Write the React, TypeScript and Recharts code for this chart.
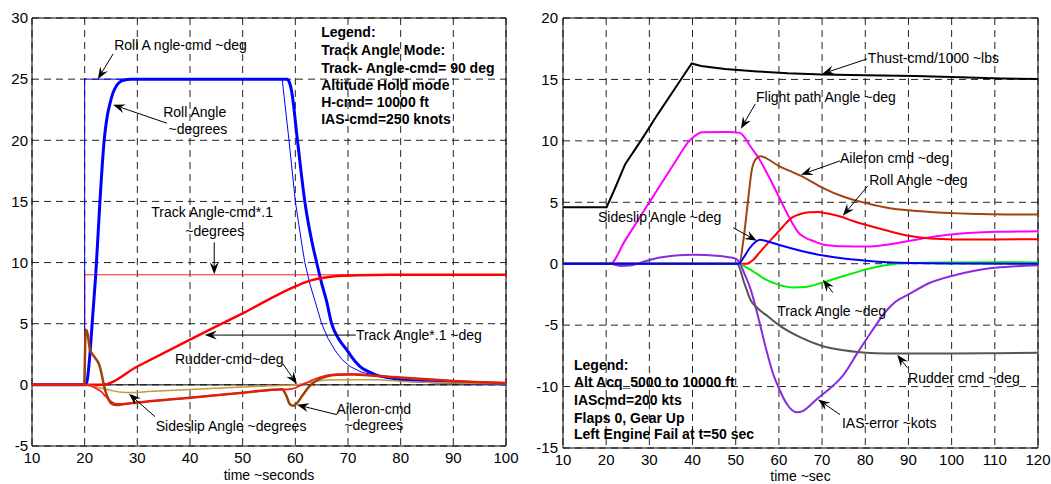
import {
  LineChart,
  Line,
  XAxis,
  YAxis,
  CartesianGrid,
  ReferenceLine,
  ReferenceDot,
  ReferenceArea,
} from "recharts";

type Pt = [number, number];

// ---- left panel: track angle mode ----
const leftTicksX = [10, 20, 30, 40, 50, 60, 70, 80, 90, 100];
const leftTicksY = [-5, 0, 5, 10, 15, 20, 25, 30];

const rollAngleCmd: Pt[] = [
  [10, 0], [20, 0], [20, 25], [57.5, 25], [58.8, 20], [60, 15], [61.2, 11.6], [61.8, 10],
  [62.8, 8.2], [63.7, 6.9], [65, 5], [66.2, 3.8], [67.5, 2.85], [68.8, 2.1], [70.4, 1.5],
  [72.5, 1.05], [76, 0.7], [80, 0.45], [85, 0.28], [90, 0.18], [95, 0.12], [100, 0.08],
];
const rollAngle: Pt[] = [
  [10, 0], [20.25, 0], [20.9, 2], [21.5, 5.5], [22.1, 9], [22.9, 15], [23.7, 20], [24.3, 22],
  [24.8, 23], [25.4, 23.9], [26.1, 24.5], [27, 24.85], [28.6, 25], [58.4, 25], [58.9, 24.7],
  [59.3, 24], [60.4, 20], [61.8, 15], [63.2, 11.6], [64.05, 10], [65, 8.3], [65.9, 6.9],
  [66.9, 5], [68.3, 3.7], [69.8, 2.85], [71, 2.1], [72.3, 1.5], [73.8, 1.1], [75.4, 0.8],
  [77.5, 0.6], [80.5, 0.4], [85, 0.28], [90, 0.2], [95, 0.14], [100, 0.1],
];
const trackAngleCmd: Pt[] = [[10, 0], [20, 0], [20, 9], [100, 9]];
const trackAngle: Pt[] = [
  [10, 0], [23.3, 0], [30, 1.5], [40, 3.7], [50, 5.85], [60, 8.05], [62, 8.4], [64, 8.65],
  [66, 8.8], [68, 8.9], [72, 8.97], [80, 9], [100, 9],
];
const sideslipLeft: Pt[] = [
  [10, 0], [20, 0], [21, -0.05], [23, -0.25], [25, -0.45], [27, -0.6], [29, -0.62], [32, -0.55],
  [40, -0.38], [50, -0.18], [57, -0.05], [60, 0], [62, 0.15], [64, 0.3], [66, 0.4], [70, 0.42],
  [76, 0.42], [78, 0.35], [80, 0.3], [85, 0.22], [90, 0.16], [95, 0.12], [100, 0.1],
];
const aileronLeft: Pt[] = [
  [10, 0], [19.9, 0], [20.2, 4.5], [20.5, 4.3], [21, 2.9], [21.5, 2.5], [22, 2.2], [22.6, 1.8],
  [23, 1.3], [23.5, 0.3], [24, -0.6], [24.6, -1.25], [25.3, -1.6], [26, -1.65], [27, -1.6],
  [30, -1.45], [40, -1.05], [50, -0.65], [57.5, -0.35], [58.2, -0.8], [59, -1.6], [59.6, -1.7],
  [60.3, -1.5], [61.3, -0.9], [62.5, -0.2], [64, 0.35], [66, 0.7], [68, 0.82], [71, 0.85],
  [75, 0.75], [80, 0.6], [85, 0.45], [90, 0.32], [95, 0.22], [100, 0.15],
];
const rudderLeft: Pt[] = [
  [10, 0], [20, 0], [21, -0.08], [22, -0.25], [23, -0.5], [24, -0.95], [25, -1.35], [26, -1.55],
  [27, -1.55], [30, -1.42], [40, -1.05], [50, -0.65], [57.5, -0.38], [59, -0.35], [60, -0.25],
  [61, -0.05], [62, 0.15], [63, 0.35], [64.5, 0.6], [66, 0.78], [68, 0.87], [71, 0.88],
  [75, 0.75], [80, 0.58], [85, 0.45], [90, 0.32], [95, 0.24], [100, 0.17],
];

// ---- right panel: altitude acquire, engine fail ----
const rightTicksX = [10, 20, 30, 40, 50, 60, 70, 80, 90, 100, 110, 120];
const rightTicksY = [-15, -10, -5, 0, 5, 10, 15, 20];

const thrustCmd: Pt[] = [
  [10, 4.6], [20.1, 4.6], [22, 6.1], [24.4, 8.1], [28.2, 10.1], [32, 12.2], [36, 14.3],
  [39.8, 16.3], [42, 16.1], [47.5, 15.85], [55, 15.65], [62, 15.5], [70, 15.4], [80, 15.35],
  [91.5, 15.28], [100, 15.2], [111.6, 15.07], [120, 15.03],
];
const flightPath: Pt[] = [
  [10, 0], [20.9, 0], [24.4, 1.9], [28, 3.9], [32, 6.1], [36, 8.3], [39, 9.9], [40.5, 10.4],
  [42.2, 10.7], [48, 10.72], [51, 10.65], [52, 10.3], [53.5, 9.5], [55.3, 8.6], [57.5, 7.2],
  [60, 5.45], [62.5, 3.7], [64.6, 2.5], [66.5, 2.05], [68, 1.85], [70.3, 1.55], [75, 1.42],
  [80.3, 1.4], [85, 1.55], [90.4, 1.87], [95, 2.15], [100.4, 2.4], [105, 2.52], [111.2, 2.6],
  [120, 2.65],
];
const aileronRight: Pt[] = [
  [10, 0], [50.8, 0], [51.8, 2], [52.8, 5], [53.7, 7.6], [54.6, 8.5], [55.7, 8.75], [57, 8.6],
  [60, 7.95], [62.5, 7.55], [65.1, 7.15], [70, 6.2], [75, 5.45], [80, 4.95], [86, 4.5],
  [90, 4.35], [98, 4.15], [107, 4.05], [120, 4.0],
];
const rollRight: Pt[] = [
  [10, 0], [52.5, 0], [54, 0.3], [55.5, 0.9], [57.5, 1.7], [59.6, 2.5], [61, 3.05], [63, 3.75],
  [65, 4.05], [67, 4.18], [69.2, 4.2], [71, 4.1], [74.6, 3.8], [77, 3.5], [80.3, 3.15],
  [85, 2.7], [90.4, 2.25], [95, 2.05], [100.4, 1.98], [110, 1.97], [120, 2.0],
];
const sideslipRight: Pt[] = [
  [10, 0], [50.6, 0], [52, 0.6], [53.3, 1.3], [54.5, 1.75], [55.6, 1.95], [57, 1.85],
  [60.3, 1.5], [65, 1.06], [70.3, 0.66], [75, 0.42], [80.3, 0.24], [85, 0.12], [90.4, 0.05],
  [100, 0.02], [120, 0],
];
const trackRight: Pt[] = [
  [10, 0], [50.5, 0], [53, -0.4], [55, -0.85], [57, -1.3], [60, -1.72], [63.5, -1.93],
  [66, -1.9], [70, -1.55], [75, -1.0], [80, -0.48], [85, -0.1], [90, 0.05], [100, 0.1],
  [110, 0.12], [120, 0.1],
];
const iasError: Pt[] = [
  [10, 0], [21, 0], [23.2, -0.18], [26, -0.12], [29, 0.2], [32.5, 0.5], [36, 0.66], [40.2, 0.73],
  [45.6, 0.65], [48, 0.55], [50.2, 0.38], [51, 0], [52, -0.8], [53.3, -1.93], [55.6, -4.9],
  [57, -6.9], [58.7, -9.0], [60.2, -10.3], [61.8, -11.4], [63, -11.9], [64.3, -12.1],
  [65.5, -12.0], [67, -11.6], [69, -10.95], [72, -10.1], [74.9, -9.06], [78.3, -7.2],
  [81.5, -5.5], [84.6, -3.95], [87, -3.1], [90, -2.5], [95, -1.55], [100, -1.0], [105, -0.6],
  [109.3, -0.35], [115, -0.2], [120, -0.12],
];
const rudderRight: Pt[] = [
  [10, 0], [50.3, 0], [52, -1.6], [53.5, -3.0], [55, -3.6], [57.5, -4.3], [60, -5.0], [65, -6.0],
  [70, -6.7], [75, -7.05], [80, -7.25], [85, -7.3], [100, -7.3], [110, -7.28], [120, -7.25],
];

// annotations, in data units
type Note = { t: number; v: number; text: string; anchor?: "start" | "middle"; bold?: boolean };
type Arr = [number, number, number, number];

const leftNotes: Note[] = [
  { t: 25.6, v: 27.8, text: "Roll A ngle-cmd ~deg" },
  { t: 40.9, v: 22.3, text: "Roll Angle", anchor: "middle" },
  { t: 41.5, v: 20.9, text: "~degrees", anchor: "middle" },
  { t: 44.2, v: 14.1, text: "Track Angle-cmd*.1", anchor: "middle" },
  { t: 44.7, v: 12.6, text: "~degrees", anchor: "middle" },
  { t: 71.5, v: 4.07, text: "Track Angle*.1 ~deg" },
  { t: 37.15, v: 2.1, text: "Rudder-cmd~deg" },
  { t: 33.5, v: -3.34, text: "Sideslip Angle ~degrees" },
  { t: 74.9, v: -1.96, text: "Aileron-cmd", anchor: "middle" },
  { t: 74.9, v: -3.26, text: "~degrees", anchor: "middle" },
  { t: 64.9, v: 28.85, text: "Legend:", bold: true },
  { t: 64.9, v: 27.38, text: "Track Angle Mode:", bold: true },
  { t: 64.9, v: 25.92, text: "Track- Angle-cmd= 90 deg", bold: true },
  { t: 64.9, v: 24.55, text: "Altitude Hold mode", bold: true },
  { t: 64.9, v: 23.14, text: "H-cmd= 10000 ft", bold: true },
  { t: 64.9, v: 21.76, text: "IAS-cmd=250 knots", bold: true },
];
const leftArrows: Arr[] = [
  [25.4, 27.06, 22.5, 25.0],
  [35.6, 21.4, 25.4, 22.9],
  [44.6, 11.65, 44.6, 9.05],
  [71.5, 4.07, 42.8, 4.07],
  [57.65, 1.71, 60.3, 0.08],
  [33.35, -2.6, 28.4, -0.73],
  [67.9, -2.44, 60.3, -1.63],
];

const rightNotes: Note[] = [
  { t: 80.6, v: 16.75, text: "Thust-cmd/1000 ~lbs" },
  { t: 54.7, v: 13.58, text: "Flight path Angle ~deg" },
  { t: 74.15, v: 8.62, text: "Aileron cmd ~deg" },
  { t: 80.9, v: 6.83, text: "Roll Angle ~deg" },
  { t: 18.1, v: 3.82, text: "Sideslip Angle ~deg" },
  { t: 59.6, v: -3.82, text: "Track Angle ~deg" },
  { t: 89.9, v: -9.27, text: "Rudder cmd ~deg" },
  { t: 74.6, v: -12.93, text: "IAS-error ~kots" },
  { t: 12.55, v: -8.21, text: "Legend:", bold: true },
  { t: 12.55, v: -9.59, text: "Alt Acq_5000 to 10000 ft", bold: true },
  { t: 12.55, v: -11.06, text: "IAScmd=200 kts", bold: true },
  { t: 12.55, v: -12.52, text: "Flaps 0, Gear Up", bold: true },
  { t: 12.55, v: -13.9, text: "Left Engine Fail at t=50 sec", bold: true },
];
const rightArrows: Arr[] = [
  [80.4, 16.67, 70.0, 15.45],
  [54.5, 13.0, 51.2, 10.98],
  [74.15, 8.37, 65.1, 7.24],
  [80.6, 6.34, 74.8, 3.9],
  [49.4, 2.93, 54.9, 1.87],
  [72.5, -2.36, 70.2, -1.3],
  [89.7, -8.46, 87.4, -7.4],
  [74.15, -12.28, 69.05, -11.06],
];

const FONT = "'Liberation Sans', Arial, Helvetica, sans-serif";
const rows = (pts: Pt[]) => pts.map(([t, v]) => ({ t, v }));

// arrow with a filled head at the second point
function ArrowShape(p: any) {
  const { x1, y1, x2, y2 } = p;
  const a = Math.atan2(y2 - y1, x2 - x1);
  const c = Math.cos(a);
  const s = Math.sin(a);
  const L = 12;
  const W = 4.5;
  const bx = x2 - L * c;
  const by = y2 - L * s;
  const nx = x2 - 0.65 * L * c;
  const ny = y2 - 0.65 * L * s;
  const head = `${x2},${y2} ${bx - W * s},${by + W * c} ${nx},${ny} ${bx + W * s},${by - W * c}`;
  return (
    <g>
      <line x1={x1} y1={y1} x2={nx} y2={ny} stroke="#000" strokeWidth={1} />
      <polygon points={head} fill="#000" />
    </g>
  );
}

const noteShape = (n: Note) => (p: any) => (
  <text
    x={p.cx}
    y={p.cy}
    textAnchor={n.anchor ?? "start"}
    dominantBaseline="central"
    fontFamily={FONT}
    fontSize={14}
    fontWeight={n.bold ? "bold" : "normal"}
    fill="#000"
  >
    {n.text}
  </text>
);

function renderNotes(notes: Note[], arrows: Arr[]) {
  return [
    ...arrows.map((a, i) => (
      <ReferenceLine
        key={"a" + i}
        segment={[{ x: a[0], y: a[1] }, { x: a[2], y: a[3] }]}
        shape={ArrowShape}
      />
    )),
    ...notes.map((n, i) => (
      <ReferenceDot key={"n" + i} x={n.t} y={n.v} r={0} shape={noteShape(n)} />
    )),
  ];
}

const tickStyle = { fill: "#000", fontSize: 15, fontFamily: FONT };

function series(pts: Pt[], color: string, width: number, type: "linear" | "monotone" = "monotone") {
  return (
    <Line
      data={rows(pts)}
      dataKey="v"
      type={type}
      stroke={color}
      strokeWidth={width}
      dot={false}
      activeDot={false}
      isAnimationActive={false}
    />
  );
}

function LeftChart() {
  return (
    <LineChart width={525} height={484} margin={{ top: 18, right: 19, bottom: 0, left: 0 }}>
      <CartesianGrid stroke="#222" strokeDasharray="7 5" />
      <XAxis
        dataKey="t"
        type="number"
        domain={[10, 100]}
        ticks={leftTicksX}
        allowDataOverflow
        height={38}
        tickLine={false}
        axisLine={false}
        tickSize={4}
        tick={tickStyle}
        label={{ value: "time ~seconds", position: "insideBottom", offset: 4, fill: "#000", fontSize: 14, fontFamily: FONT }}
      />
      <YAxis
        type="number"
        domain={[-5, 30]}
        ticks={leftTicksY}
        allowDataOverflow
        width={32}
        tickLine={false}
        axisLine={false}
        tickSize={2}
        tick={tickStyle}
      />
      <ReferenceLine y={0} stroke="#000" strokeWidth={1} />
      {series(trackAngleCmd, "#ff2020", 1, "linear")}
      {series(rollAngleCmd, "#0000ff", 1, "linear")}
      {series(rollAngle, "#0000ff", 3)}
      {series(trackAngle, "#ff0000", 2.5)}
      {series(sideslipLeft, "#c8963c", 1.5)}
      {series(aileronLeft, "#a0400a", 2.5)}
      {series(rudderLeft, "#ff1010", 1.6)}
      <ReferenceArea x1={10} x2={100} y1={-5} y2={30} fill="none" stroke="#000" strokeWidth={1} ifOverflow="visible" />
      {renderNotes(leftNotes, leftArrows)}
    </LineChart>
  );
}

function RightChart() {
  return (
    <LineChart width={526} height={484} margin={{ top: 18, right: 13, bottom: 0, left: 0 }}>
      <CartesianGrid stroke="#222" strokeDasharray="7 5" />
      <XAxis
        dataKey="t"
        type="number"
        domain={[10, 120]}
        ticks={rightTicksX}
        allowDataOverflow
        height={36}
        tickLine={false}
        axisLine={false}
        tickSize={4}
        tick={tickStyle}
        label={{ value: "time ~sec", position: "insideBottom", offset: 3, fill: "#000", fontSize: 14, fontFamily: FONT }}
      />
      <YAxis
        type="number"
        domain={[-15, 20]}
        ticks={rightTicksY}
        allowDataOverflow
        width={38}
        tickLine={false}
        axisLine={false}
        tickSize={3}
        tick={tickStyle}
      />
      {series(thrustCmd, "#000000", 2, "linear")}
      {series(flightPath, "#ff00ff", 2)}
      {series(aileronRight, "#a0440c", 2)}
      {series(rollRight, "#ff0000", 2)}
      {series(trackRight, "#00ee00", 2)}
      {series(iasError, "#8a2be2", 2)}
      {series(rudderRight, "#555555", 2)}
      {series(sideslipRight, "#0000ff", 2)}
      <ReferenceArea x1={10} x2={120} y1={-15} y2={20} fill="none" stroke="#000" strokeWidth={1} ifOverflow="visible" />
      {renderNotes(rightNotes, rightArrows)}
    </LineChart>
  );
}

export default function App() {
  return (
    <div
      style={{
        position: "absolute",
        left: 0,
        top: 0,
        width: 1051,
        height: 484,
        background: "#fff",
        fontFamily: FONT,
        overflow: "hidden",
      }}
    >
      <div style={{ position: "absolute", left: 0, top: 0 }}>
        <LeftChart />
      </div>
      <div style={{ position: "absolute", left: 525, top: 0 }}>
        <RightChart />
      </div>
    </div>
  );
}
